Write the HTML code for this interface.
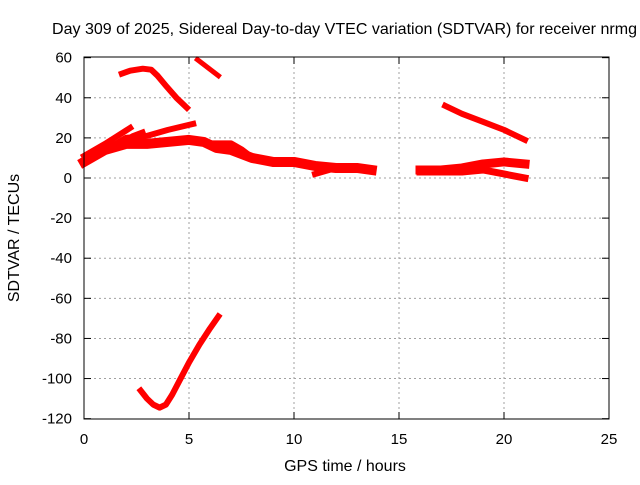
<!DOCTYPE html>
<html><head><meta charset="utf-8"><style>
body{margin:0;background:#fff;}
text{font-family:"Liberation Sans",sans-serif;font-size:15px;fill:#000;}
.big{font-size:16px;}
</style></head><body>
<svg id="chart" width="640" height="480" xmlns="http://www.w3.org/2000/svg">
<text class="big" x="52" y="34" textLength="585" lengthAdjust="spacingAndGlyphs">Day 309 of 2025, Sidereal Day-to-day VTEC variation (SDTVAR) for receiver nrmg</text>
<g id="grid"></g><g id="series"></g><g id="axes"></g>
<text class="big" x="345" y="471" text-anchor="middle">GPS time / hours</text>
<text class="big" transform="translate(19,238) rotate(-90)" text-anchor="middle">SDTVAR / TECUs</text>
</svg>
<script>
const xTicks=[0,5,10,15,20,25];
const yTicks=[60,40,20,0,-20,-40,-60,-80,-100,-120];
const trackTimes=[
 [1.8,2.2,2.8,3.2,3.5,3.9,4.4,4.9],
 [5.4,6.4],
 [0,1,2,3,4,5.2],
 [0,1,1.6,2.2],
 [1.5,2.3,2.8],
 [0,1,2,3,4,5,5.7,6.3,7,8,9,10,11,12,13,13.7],
 [6,7,7.5,8,9],
 [11,12,13.5],
 [2.7,3.0,3.3,3.6,3.9,4.2,4.6,5.0,5.5,6.0,6.4],
 [17.2,18,19,20,21],
 [16,17,18,19,20,21],
 [16,18,19,20,21]
];
const trackValues=[
 [52,53.5,54.5,54,51,46,40,35],
 [59,51],
 [9,14,20,21,24,27],
 [11,17,21,25],
 [16,21,23],
 [8,14,17,17,18,19,18,15,14,10,8,8,6,5,5,4],
 [17,17,14,10,8],
 [2,5,5],
 [-106,-110,-113,-114.5,-113,-108,-100,-92,-83,-75,-69],
 [36,32,28,24,19],
 [4,4,5,7,8,7],
 [3,3,4,2,0]
];
const trackWidths=[6,5,6,6,5,10,7,6,6,6,9,7];
const X=t=>84+t*21, Y=v=>178-v*(361/180);
const NS="http://www.w3.org/2000/svg";
const grid=document.getElementById('grid'),axes=document.getElementById('axes'),ser=document.getElementById('series');
function mk(tag,at,p){const e=document.createElementNS(NS,tag);for(const k in at)e.setAttribute(k,at[k]);p.appendChild(e);return e;}
xTicks.forEach(t=>{
 if(t>0&&t<25){const g=mk('line',{x1:X(t),x2:X(t),y1:57,y2:419,stroke:'#a0a0a0','stroke-dasharray':'2,3'},grid);
 
 }
 mk('line',{x1:X(t),x2:X(t),y1:419,y2:412,stroke:'#000'},axes);
 mk('line',{x1:X(t),x2:X(t),y1:57,y2:64,stroke:'#000'},axes);
 const l=mk('text',{x:X(t),y:444,'text-anchor':'middle'},axes);l.textContent=t;
 
 
});
yTicks.forEach(v=>{
 if(v<60&&v>-120){const g=mk('line',{x1:84,x2:609,y1:Y(v),y2:Y(v),stroke:'#a0a0a0','stroke-dasharray':'2,3'},grid);
 
 }
 mk('line',{x1:84,x2:91,y1:Y(v),y2:Y(v),stroke:'#000'},axes);
 mk('line',{x1:609,x2:602,y1:Y(v),y2:Y(v),stroke:'#000'},axes);
 const l=mk('text',{x:72,y:Y(v)+5,'text-anchor':'end'},axes);l.textContent=v;
 
 
});
const fr=mk('rect',{x:84,y:57,width:525,height:362,fill:'none',stroke:'#000'},axes);


trackTimes.forEach((ts,i)=>{
 const pts=ts.map((t,j)=>X(t)+','+Y(trackValues[i][j])).join(' ');
 const p=mk('polyline',{points:pts,fill:'none',stroke:'#ff0000','stroke-width':trackWidths[i],'stroke-linejoin':'round','stroke-linecap':'square'},ser);
 
 
});
</script>
</body></html>
